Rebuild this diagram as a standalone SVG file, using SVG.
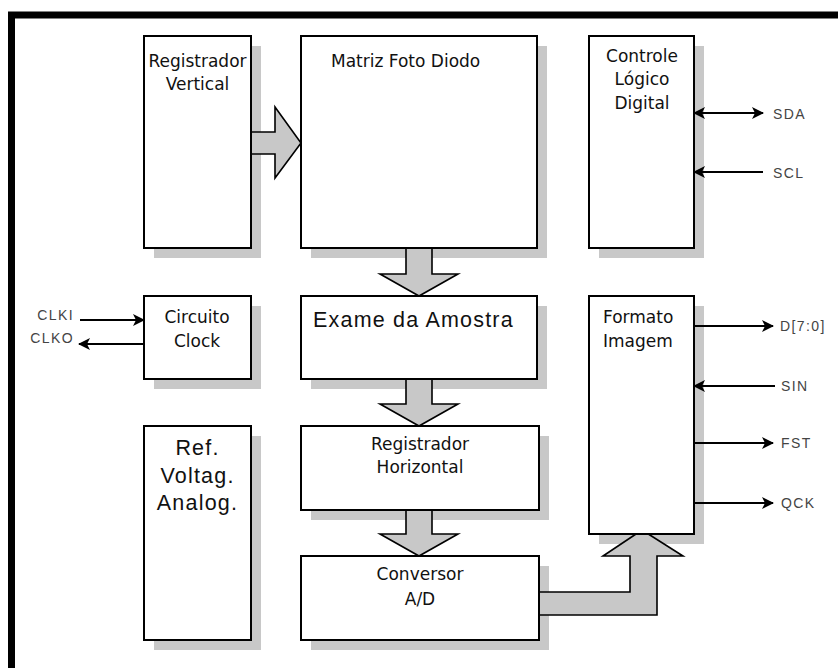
<svg xmlns="http://www.w3.org/2000/svg" width="838" height="668" viewBox="0 0 838 668">
<defs>
<style>
.shadow{fill:#c8c8c8;stroke:none}
.box{fill:#ffffff;stroke:#000;stroke-width:2}
.blk{fill:#c8c8c8;stroke:#000;stroke-width:1.6;stroke-linejoin:miter}
.sig{stroke:#000;stroke-width:2;fill:none}
.t{font-family:"DejaVu Sans",sans-serif;font-size:17px;fill:#111}
.tb{font-family:"Liberation Sans",Arial,sans-serif;font-size:21.5px;letter-spacing:1.2px;fill:#111}
.lbl{font-family:"Liberation Sans",Arial,sans-serif;font-size:14px;letter-spacing:1.4px;fill:#444}
.mid{text-anchor:middle}
</style>
<marker id="ah" viewBox="0 0 12 12" refX="11" refY="6" markerWidth="12" markerHeight="12" markerUnits="userSpaceOnUse" orient="auto-start-reverse">
<path d="M0,0 L12,6 L0,12 L3,6 z" fill="#000"/>
</marker>
</defs>
<rect x="0" y="0" width="838" height="668" fill="#ffffff"/>
<path d="M11.5,668 L11.5,15 L838,15" fill="none" stroke="#000" stroke-width="7"/>

<g id="shadows">
<rect class="shadow" x="154" y="46" width="107" height="212"/>
<rect class="shadow" x="311" y="46" width="236" height="212"/>
<rect class="shadow" x="599" y="46" width="105" height="212"/>
<rect class="shadow" x="154" y="306" width="107" height="83"/>
<rect class="shadow" x="311" y="306" width="236" height="83"/>
<rect class="shadow" x="599" y="306" width="105" height="238"/>
<rect class="shadow" x="154" y="436" width="107" height="214"/>
<rect class="shadow" x="311" y="436" width="238" height="84"/>
<rect class="shadow" x="311" y="566" width="238" height="84"/>
</g>

<g id="connectors">
<polygon class="blk" points="251,132 275,132 275,107 301,143 275,178 275,154 251,154"/>
<polygon class="blk" points="406,248 432,248 432,274 458,274 419,296 380,274 406,274"/>
<polygon class="blk" points="406,379 432,379 432,404 458,404 419,426 380,404 406,404"/>
<polygon class="blk" points="406,510 432,510 432,534 458,534 419,556 380,534 406,534"/>
<polygon class="blk" points="539,592 630,592 630,556 603,556 642,530 683,556 657,556 657,615 539,615"/>
<line class="sig" x1="694" y1="113" x2="763" y2="113" marker-start="url(#ah)" marker-end="url(#ah)"/>
<line class="sig" x1="763" y1="172" x2="694" y2="172" marker-end="url(#ah)"/>
<line class="sig" x1="80" y1="320" x2="144" y2="320" marker-end="url(#ah)"/>
<line class="sig" x1="144" y1="344" x2="79" y2="344" marker-end="url(#ah)"/>
<line class="sig" x1="694" y1="326" x2="773" y2="326" marker-end="url(#ah)"/>
<line class="sig" x1="775" y1="386" x2="694" y2="386" marker-end="url(#ah)"/>
<line class="sig" x1="694" y1="443" x2="773" y2="443" marker-end="url(#ah)"/>
<line class="sig" x1="694" y1="503" x2="773" y2="503" marker-end="url(#ah)"/>
<text class="lbl" x="773" y="119">SDA</text>
<text class="lbl" x="773" y="178">SCL</text>
<text class="lbl" x="74" y="320" text-anchor="end">CLKI</text>
<text class="lbl" x="74" y="343" text-anchor="end">CLKO</text>
<text class="lbl" x="780" y="331">D[7:0]</text>
<text class="lbl" x="781" y="391">SIN</text>
<text class="lbl" x="781" y="448">FST</text>
<text class="lbl" x="781" y="508">QCK</text>
</g>

<g id="reg-vertical">
<rect class="box" x="144" y="36" width="107" height="212"/>
<text class="t mid" x="197.5" y="67">Registrador</text>
<text class="t mid" x="197.5" y="90">Vertical</text>
</g>
<g id="matriz-foto-diodo">
<rect class="box" x="301" y="36" width="236" height="212"/>
<text class="t" x="331" y="67">Matriz Foto Diodo</text>
</g>
<g id="controle-logico">
<rect class="box" x="589" y="36" width="105" height="212"/>
<text class="t mid" x="642" y="62">Controle</text>
<text class="t mid" x="642" y="85">Lógico</text>
<text class="t mid" x="642" y="109">Digital</text>
</g>
<g id="circuito-clock">
<rect class="box" x="144" y="296" width="107" height="83"/>
<text class="t mid" x="197" y="323">Circuito</text>
<text class="t mid" x="197" y="347">Clock</text>
</g>
<g id="exame-amostra">
<rect class="box" x="301" y="296" width="236" height="83"/>
<text class="tb" x="313" y="327">Exame da Amostra</text>
</g>
<g id="formato-imagem">
<rect class="box" x="589" y="296" width="105" height="238"/>
<text class="t" x="603" y="323">Formato</text>
<text class="t" x="603" y="347">Imagem</text>
</g>
<g id="ref-voltag">
<rect class="box" x="144" y="426" width="107" height="214"/>
<text class="tb mid" x="197.5" y="455">Ref.</text>
<text class="tb mid" x="197.5" y="483">Voltag.</text>
<text class="tb mid" x="197.5" y="510">Analog.</text>
</g>
<g id="reg-horizontal">
<rect class="box" x="301" y="426" width="238" height="84"/>
<text class="t mid" x="420" y="450">Registrador</text>
<text class="t mid" x="420" y="473">Horizontal</text>
</g>
<g id="conversor-ad">
<rect class="box" x="301" y="556" width="238" height="84"/>
<text class="t mid" x="420" y="580">Conversor</text>
<text class="t mid" x="420" y="605">A/D</text>
</g>
</svg>
